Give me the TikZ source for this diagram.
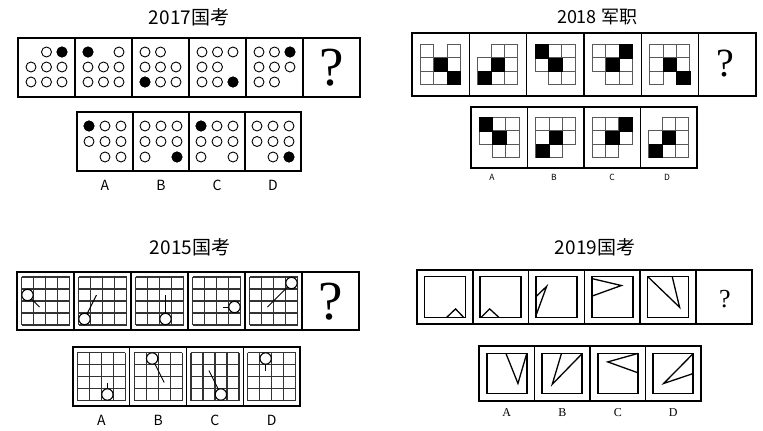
\documentclass[tikz,border=0pt]{standalone}
\usepackage{fontspec}
\newfontfamily\cjk{Noto Sans CJK SC}
\newfontfamily\timesfont{Liberation Serif}

\begin{document}
\begin{tikzpicture}[x=1pt, y=-1pt,
    frame/.style={line width=1.3pt},
    ring/.style={draw, fill=white, line width=0.9pt},
    dot/.style={draw, fill=black, line width=0.9pt},
    tile/.style={draw=black!65, line width=1pt},
    mesh/.style={draw=black!80, line width=1.2pt},
    stick/.style={line width=0.9pt},
    bob/.style={draw, fill=white, line width=1.1pt},
    square/.style={line width=1.7pt},
    wedge/.style={line width=1.3pt, line join=miter},
    title/.style={font=\cjk\fontsize{19}{19}\selectfont},
    optlabel/.style={font=\cjk\fontsize{14}{14}\selectfont}
]
    \useasboundingbox (0,0) rectangle (763,431);

    % === 2017 ===
    \node[title] (title17) at (189,17) {2017国考};
    \draw[frame] (18,38) rectangle (360,97);
    \foreach \i in {1,...,5} \draw[frame] ({18+57*\i},38) -- ({18+57*\i},97);
    \foreach \i/\bc/\br/\mc/\mr in {0/3/1/1/1, 1/1/1/2/1, 2/1/3/3/1, 3/3/3/3/2, 4/3/1/3/3} {
        \foreach \c in {1,2,3} \foreach \r in {1,2,3} {
            \pgfmathtruncatemacro\hole{and(\c==\mc,\r==\mr)}
            \ifnum\hole=0 \draw[ring] ({46.5+57*\i+15.5*(\c-2)},{67+15*(\r-2)}) circle (5); \fi
        }
        \draw[dot] ({46.5+57*\i+15.5*(\bc-2)},{67+15*(\br-2)}) circle (5);
    }
    \node (ask17) at (331.5,68) {\timesfont\fontsize{55}{55}\selectfont ?};

    % options
    \draw[frame] (77,112) rectangle (301,171);
    \foreach \i in {1,2,3} \draw[frame] ({77+56*\i},112) -- ({77+56*\i},171);
    \foreach \i/\bc/\br/\mc/\mr in {0/1/1/1/3, 1/3/3/2/3, 2/1/1/2/3, 3/3/3/1/3} {
        \foreach \c in {1,2,3} \foreach \r in {1,2,3} {
            \pgfmathtruncatemacro\hole{and(\c==\mc,\r==\mr)}
            \ifnum\hole=0 \draw[ring] ({105+56*\i+16*(\c-2)},{141.5+15.5*(\r-2)}) circle (5); \fi
        }
        \draw[dot] ({105+56*\i+16*(\bc-2)},{141.5+15.5*(\br-2)}) circle (5);
    }
    \foreach \l [count=\k from 0] in {A,B,C,D}
        \node[optlabel] (lab17-\l) at ({105+56*\k},185) {\l};

    % === 2018 ===
    \node[title, font=\cjk\fontsize{18}{18}\selectfont] (title18) at (597,17) {2018 军职};
    \draw[frame] (412,33) rectangle (756,96);
    \foreach \i in {1,...,5} \draw[frame] ({412+57.3*\i},33) -- ({412+57.3*\i},96);
    \foreach \i/\mc/\mr/\bc/\br in {0/2/1/3/3, 1/1/1/1/3, 2/1/3/1/1, 3/1/3/3/1, 4/2/3/3/3} {
        \begin{scope}[shift={({420.6+57.3*\i},44.5)}]
            \foreach \c in {1,2,3} \foreach \r in {1,2,3} {
                \pgfmathtruncatemacro\hole{and(\c==\mc,\r==\mr)}
                \ifnum\hole=0 \draw[tile, fill=white] ({13.3*(\c-1)},{13.3*(\r-1)}) rectangle +(13.3,13.3); \fi
            }
            \draw[fill=black] (13.3,13.3) rectangle +(13.3,13.3);
            \draw[fill=black] ({13.3*(\bc-1)},{13.3*(\br-1)}) rectangle +(13.3,13.3);
        \end{scope}
    }
    \node (ask18) at (725,64) {\timesfont\fontsize{40}{40}\selectfont ?};

    % options
    \draw[frame] (471,107) rectangle (697,168);
    \foreach \i in {1,2,3} \draw[frame] ({471+56.5*\i},107) -- ({471+56.5*\i},168);
    \foreach \i/\mc/\mr/\bc/\br in {0/1/3/1/1, 1/3/3/1/3, 2/3/3/3/1, 3/1/1/1/3} {
        \begin{scope}[shift={({479.25+56.5*\i},117.5)}]
            \foreach \c in {1,2,3} \foreach \r in {1,2,3} {
                \pgfmathtruncatemacro\hole{and(\c==\mc,\r==\mr)}
                \ifnum\hole=0 \draw[tile, fill=white] ({13.3*(\c-1)},{13.3*(\r-1)}) rectangle +(13.3,13.3); \fi
            }
            \draw[fill=black] (13.3,13.3) rectangle +(13.3,13.3);
            \draw[fill=black] ({13.3*(\bc-1)},{13.3*(\br-1)}) rectangle +(13.3,13.3);
        \end{scope}
    }
    \foreach \l/\x in {A/492, B/554, C/612, D/667}
        \node[optlabel, font=\cjk\fontsize{8.5}{8.5}\selectfont] (lab18-\l) at (\x,177) {\l};

    % === 2015 ===
    \node[title] (title15) at (190,247) {2015国考};
    \draw[frame] (17,272) rectangle (359,330);
    \foreach \i in {1,...,5} \draw[frame] ({17+57*\i},272) -- ({17+57*\i},330);
    \foreach \i/\cx/\cy/\ex/\ey in {0/0.5/1.5/1.5/2.5, 1/0.5/3.5/1.5/1.5, 2/2.5/3.5/2.5/1.5, 3/3.5/2.5/2.5/2.5, 4/3.5/0.5/1.5/2.5} {
        \begin{scope}[shift={({21.5+57*\i},277)}]
            \foreach \g in {0,12,...,48} {
                \draw[mesh] (\g,0) -- (\g,48);
                \draw[mesh] (0,\g) -- (48,\g);
            }
            \draw[stick] ({12*\cx},{12*\cy}) -- ({12*\ex},{12*\ey});
            \draw[bob] ({12*\cx},{12*\cy}) circle (5.7);
        \end{scope}
    }
    \node (ask15) at (330.5,302) {\timesfont\fontsize{55}{55}\selectfont ?};

    % options
    \draw[frame] (73,347) rectangle (300,406);
    \foreach \i in {1,2,3} \draw[frame] ({73+56.75*\i},347) -- ({73+56.75*\i},406);
    \foreach \i/\cx/\cy/\ex/\ey in {0/2.5/3.5/2.5/2.5, 1/1.5/0.5/2.5/2.5, 2/2.5/3.5/1.5/1.5, 3/1.5/0.5/1.5/1.5} {
        \begin{scope}[shift={({77.4+56.75*\i},352.5)}]
            \foreach \g in {0,12,...,48} {
                \draw[mesh] (\g,0) -- (\g,48);
                \draw[mesh] (0,\g) -- (48,\g);
            }
            \draw[stick] ({12*\cx},{12*\cy}) -- ({12*\ex},{12*\ey});
            \draw[bob] ({12*\cx},{12*\cy}) circle (5.7);
        \end{scope}
    }
    \foreach \l [count=\k from 0] in {A,B,C,D}
        \node[optlabel] (lab15-\l) at ({101.4+56.75*\k},420) {\l};

    % === 2019 ===
    \node[title] (title19) at (595,247) {2019国考};
    \draw[square] (417,270) rectangle (752,324);
    \foreach \i in {1,...,5} \draw[square] ({417+55.8*\i},270) -- ({417+55.8*\i},324);
    \foreach \i/\ax/\ay/\bx/\by/\cx/\cy in {0/0.54/1/0.76/0.79/0.96/1, 1/0.02/1/0.23/0.79/0.46/1,
            2/0/0.95/0.26/0.24/0/0.49, 3/0/0.05/0.72/0.22/0/0.48, 4/0/0/0.78/0.75/0.6/0} {
        \begin{scope}[shift={({424.4+55.8*\i},276.5)}, x=41pt, y=-41pt]
            \draw[square] (0,0) rectangle (1,1);
            \draw[wedge] (\ax,\ay) -- (\bx,\by) -- (\cx,\cy);
        \end{scope}
    }
    \node (ask19) at (725,299) {\timesfont\fontsize{26}{26}\selectfont ?};

    % options
    \draw[square] (479,346) rectangle (701,401);
    \foreach \i in {1,2,3} \draw[square] ({479+55.5*\i},346) -- ({479+55.5*\i},401);
    \foreach \i/\ax/\ay/\bx/\by/\cx/\cy in {0/0.48/0/0.78/0.75/1/0, 1/0.48/0/0.25/0.77/1/0,
            2/1/0/0.25/0.21/1/0.48, 3/1/0/0.26/0.75/1/0.5} {
        \begin{scope}[shift={({486.75+55.5*\i},353.5)}, x=40pt, y=-40pt]
            \draw[square] (0,0) rectangle (1,1);
            \draw[wedge] (\ax,\ay) -- (\bx,\by) -- (\cx,\cy);
        \end{scope}
    }
    \foreach \l [count=\k from 0] in {A,B,C,D}
        \node[font=\timesfont\fontsize{12}{12}\selectfont] (lab19-\l) at ({506.75+55.5*\k},413) {\l};

\end{tikzpicture}
\end{document}
